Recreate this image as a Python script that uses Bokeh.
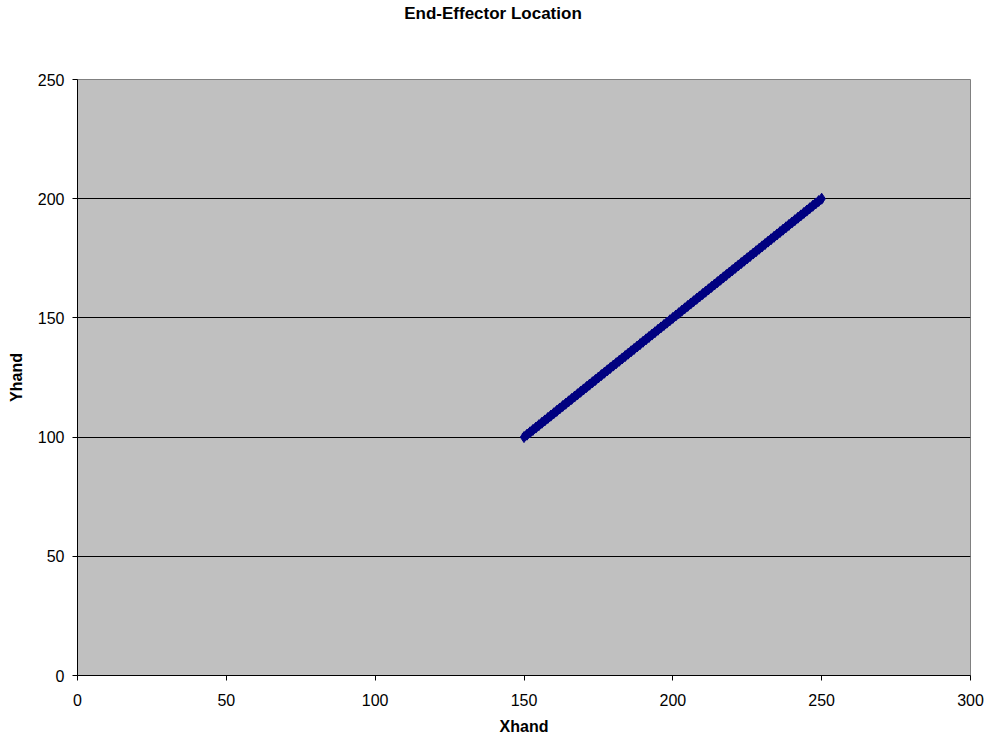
from bokeh.plotting import figure
from bokeh.embed import file_html
from bokeh.resources import INLINE
from bokeh.models import Range1d, FixedTicker, Div
from bokeh.layouts import column

title_text = "End-Effector Location"
x_label = "Xhand"
y_label = "Yhand"

xhand = [150, 151, 152, 153, 154, 155, 156, 157, 158, 159, 160, 161, 162, 163, 164,
         165, 166, 167, 168, 169, 170, 171, 172, 173, 174, 175, 176, 177, 178, 179,
         180, 181, 182, 183, 184, 185, 186, 187, 188, 189, 190, 191, 192, 193, 194,
         195, 196, 197, 198, 199, 200, 201, 202, 203, 204, 205, 206, 207, 208, 209,
         210, 211, 212, 213, 214, 215, 216, 217, 218, 219, 220, 221, 222, 223, 224,
         225, 226, 227, 228, 229, 230, 231, 232, 233, 234, 235, 236, 237, 238, 239,
         240, 241, 242, 243, 244, 245, 246, 247, 248, 249, 250]
yhand = [100, 101, 102, 103, 104, 105, 106, 107, 108, 109, 110, 111, 112, 113, 114,
         115, 116, 117, 118, 119, 120, 121, 122, 123, 124, 125, 126, 127, 128, 129,
         130, 131, 132, 133, 134, 135, 136, 137, 138, 139, 140, 141, 142, 143, 144,
         145, 146, 147, 148, 149, 150, 151, 152, 153, 154, 155, 156, 157, 158, 159,
         160, 161, 162, 163, 164, 165, 166, 167, 168, 169, 170, 171, 172, 173, 174,
         175, 176, 177, 178, 179, 180, 181, 182, 183, 184, 185, 186, 187, 188, 189,
         190, 191, 192, 193, 194, 195, 196, 197, 198, 199, 200]

x_ticks = [0, 50, 100, 150, 200, 250, 300]
y_ticks = [0, 50, 100, 150, 200, 250]

FONT = "Liberation Sans"

title_div = Div(text=title_text, width=986, height=28, margin=0,
                styles={"font-family": FONT, "font-size": "17px", "font-weight": "bold",
                        "color": "black", "text-align": "center", "line-height": "28px",
                        "width": "986px"})

p = figure(width=986, height=712, output_backend="svg", toolbar_location=None,
           x_range=Range1d(0, 300), y_range=Range1d(0, 250), margin=0,
           min_border_left=77, min_border_right=16, min_border_top=51, min_border_bottom=65)

p.border_fill_color = "white"
p.background_fill_color = "#C0C0C0"
p.outline_line_color = "#808080"
p.outline_line_width = 1

p.xgrid.grid_line_color = None
p.ygrid.grid_line_color = "black"
p.ygrid.grid_line_width = 1
p.ygrid.ticker = FixedTicker(ticks=[50, 100, 150, 200])

for ax in (p.xaxis[0], p.yaxis[0]):
    ax.axis_line_color = "black"
    ax.major_tick_line_color = "black"
    ax.major_tick_out = 5
    ax.major_tick_in = 0
    ax.minor_tick_line_color = None
    ax.major_label_text_font = FONT
    ax.major_label_text_font_size = "16px"
    ax.major_label_text_color = "black"
    ax.axis_label_text_font = FONT
    ax.axis_label_text_font_size = "16px"
    ax.axis_label_text_font_style = "bold"
    ax.axis_label_text_color = "black"

p.xaxis.ticker = FixedTicker(ticks=x_ticks)
p.yaxis.ticker = FixedTicker(ticks=y_ticks)
p.xaxis.axis_label = x_label
p.yaxis.axis_label = y_label
p.xaxis.major_label_standoff = 13
p.yaxis.major_label_standoff = 8
p.xaxis.axis_label_standoff = 9
p.yaxis.axis_label_standoff = 10

p.line(xhand, yhand, line_color="#000080", line_width=8)
p.scatter(xhand, yhand, marker="diamond", size=11, fill_color="#000080", line_color="#000080")

layout = column(title_div, p, spacing=0)
open("out.html", "w").write(file_html(layout, INLINE))
